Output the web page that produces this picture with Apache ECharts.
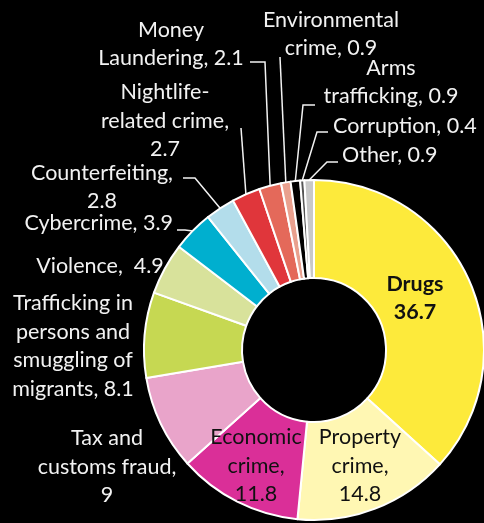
<!DOCTYPE html>
<html><head><meta charset="utf-8">
<script src="https://cdn.jsdelivr.net/npm/echarts@6/dist/echarts.min.js"></script>
<style>html,body{margin:0;padding:0;background:#000}#c{width:484px;height:523px}</style>
</head><body><div id="c"></div>
<script>
const categories = ['Drugs','Property\ncrime','Economic\ncrime','Tax and\ncustoms fraud','Trafficking in\npersons and\nsmuggling of\nmigrants','Violence','Cybercrime','Counterfeiting','Nightlife-\nrelated crime','Money\nLaundering','Environmental\ncrime','Arms\ntrafficking','Corruption','Other'];
const values = [36.7,14.8,11.8,9,8.1,4.9,3.9,2.8,2.7,2.1,0.9,0.9,0.4,0.9];
const separators = ['\n',',\n',',\n',',\n',', ',',  ',', ',',\n',',\n',', ',', ',', ',', ',', '];
const colors = ['#FDEA3B','#FFF7B3','#DA2F98','#E9A4CA','#C6D852','#D8E29B','#00AFCF','#B3DDEB','#E0363B','#E4695A','#E9A08E','#000000','#555555','#C8C8C8'];

// label placement (layout only)
const layout = [
  {x:415,y:298,align:'center',dark:true,bold:true},
  {x:360,y:466,align:'center',dark:true},
  {x:256,y:466,align:'center',dark:true},
  {x:107,y:467,align:'center'},
  {x:73,y:346,align:'center'},
  {x:100,y:266,align:'center'},
  {x:173,y:223,align:'right',line:[[185,230],[177,230]]},
  {x:102,y:187,align:'center',line:[[195,178],[183,178]]},
  {x:165,y:121,align:'center',line:[[241,128]]},
  {x:171,y:44,align:'center',line:[[265,62],[250,62]]},
  {x:331,y:34,align:'center',line:[[280,57]]},
  {x:391,y:82,align:'center',line:[[303,105],[315,105]]},
  {x:333,y:126,align:'left',line:[[317,132],[328,132]]},
  {x:342,y:155,align:'left',line:[[327,162],[338,162]]}
];

const data = categories.map((c,i)=>({
  name:c, value:values[i],
  itemStyle:{color:colors[i]},
  label:{
    color: layout[i].dark ? '#111111' : '#F2F2F2',
    fontWeight: layout[i].bold ? 'bold' : 'normal'
  },
  labelLine:{show: !!layout[i].line}
}));

const chart = echarts.init(document.getElementById('c'));
chart.setOption({
  backgroundColor:'#000000',
  animation:false,
  series:[{
    type:'pie',
    center:[314,350],
    radius:[72,170],
    startAngle:90,
    clockwise:true,
    avoidLabelOverlap:false,
    itemStyle:{borderColor:'#FFFFFF',borderWidth:2},
    label:{
      show:true,
      position:'outside',
      fontFamily:'Lato',
      fontSize:21.5,
      lineHeight:28.5,
      formatter:p=>p.name+separators[p.dataIndex]+p.value
    },
    labelLine:{lineStyle:{color:'#F2F2F2',width:1.5}},
    labelLayout:function(p){
      const L = layout[p.dataIndex];
      const r = {x:L.x,y:L.y,align:L.align,verticalAlign:'middle'};
      if (L.line && p.labelLinePoints) {
        r.labelLinePoints = [p.labelLinePoints[0]].concat(L.line);
      }
      return r;
    },
    data:data
  }]
});
</script></body></html>
